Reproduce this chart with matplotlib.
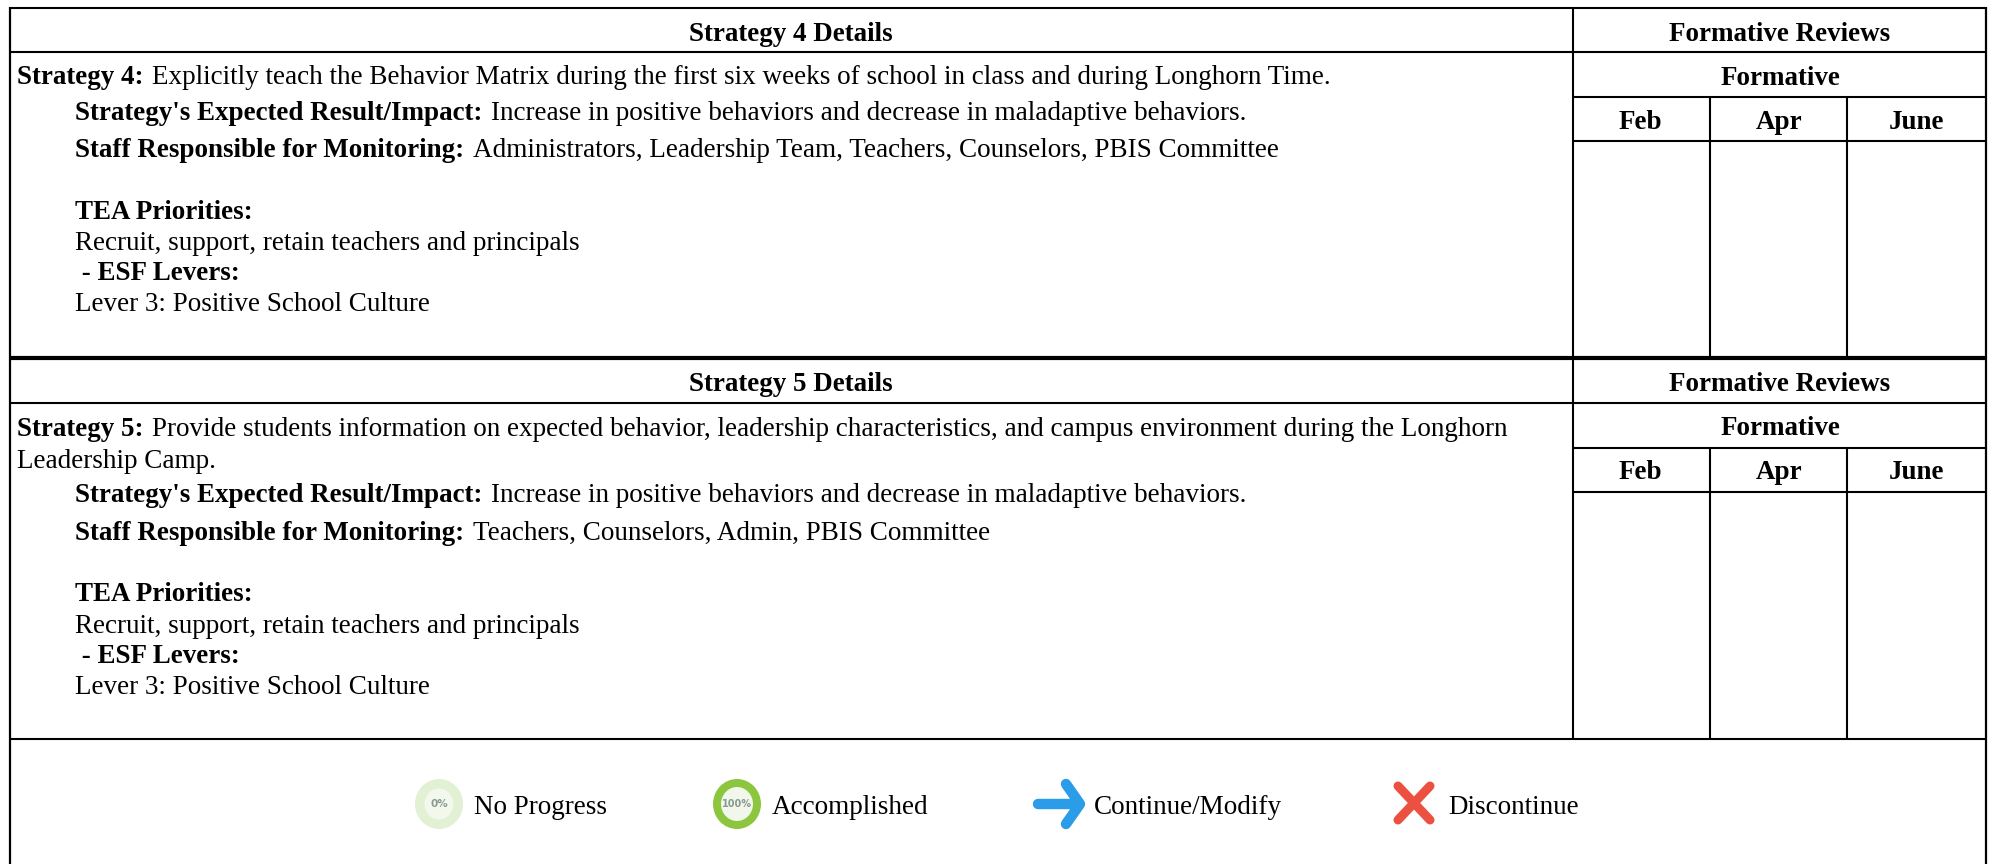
import matplotlib; matplotlib.use("Agg")
import matplotlib.pyplot as plt
from matplotlib.patches import Ellipse

W,H=1995,864
FS=19.5; FB=19.45
plt.rcParams['font.family']=['Liberation Serif','DejaVu Serif']

heads=["Strategy 4 Details","Strategy 5 Details"]
reviews="Formative Reviews"; formative="Formative"; months=["Feb","Apr","June"]
# (x, baseline, bold part, regular part)
body4=[(17,84.4,"Strategy 4:","Explicitly teach the Behavior Matrix during the first six weeks of school in class and during Longhorn Time."),
 (75,120.4,"Strategy's Expected Result/Impact:","Increase in positive behaviors and decrease in maladaptive behaviors."),
 (75,157.4,"Staff Responsible for Monitoring:","Administrators, Leadership Team, Teachers, Counselors, PBIS Committee"),
 (75,219.4,"TEA Priorities:",""),
 (75,250.4,"","Recruit, support, retain teachers and principals"),
 (75,280.4," - ESF Levers:",""),
 (75,311.4,"","Lever 3: Positive School Culture")]
body5=[(17,436.4,"Strategy 5:","Provide students information on expected behavior, leadership characteristics, and campus environment during the Longhorn"),
 (17,468.4,"","Leadership Camp."),
 (75,502.4,"Strategy's Expected Result/Impact:","Increase in positive behaviors and decrease in maladaptive behaviors."),
 (75,540.4,"Staff Responsible for Monitoring:","Teachers, Counselors, Admin, PBIS Committee"),
 (75,601.4,"TEA Priorities:",""),
 (75,633.4,"","Recruit, support, retain teachers and principals"),
 (75,663.4," - ESF Levers:",""),
 (75,694.4,"","Lever 3: Positive School Culture")]
legend_labels=["No Progress","Accomplished","Continue/Modify","Discontinue"]
legend_x=[474,772,1094,1448]

fig=plt.figure(figsize=(W/100,H/100),dpi=100)
ax=fig.add_axes([0,0,1,1]); ax.set_xlim(0,W); ax.set_ylim(H,0); ax.axis('off')
rend=fig.canvas.get_renderer()
L,R,SP=9.5,1986,1573; M1,M2=1710,1847
def hl(y,a=L,b=R,lw=1.5): ax.plot([a,b],[y,y],color='black',lw=lw,solid_capstyle='butt')
def vl(x,a,b,lw=1.5): ax.plot([x,x],[a,b],color='black',lw=lw,solid_capstyle='butt')

vl(L,7,H,lw=1.6); vl(R,7,H,lw=1.6); hl(7.5)
for top,y1,y2,y3,bot in [(7.5,52,96.5,141,358),(358,403,448,492,739)]:
    hl(y1); hl(y2,SP,R); hl(y3,SP,R); vl(SP,top,bot); vl(M1,y2,bot); vl(M2,y2,bot)
hl(358,lw=3); hl(739)

for h,b0 in zip(heads,[41,391]):
    ax.text(791,b0,h,ha='center',va='baseline',fontsize=FB,fontweight='bold')
    ax.text(1780,b0,reviews,ha='center',va='baseline',fontsize=FB,fontweight='bold')
    ax.text(1780,b0+44,formative,ha='center',va='baseline',fontsize=FB,fontweight='bold')
    for m,c in zip(months,[1640,1779,1916]):
        ax.text(c,b0+88,m,ha='center',va='baseline',fontsize=FB,fontweight='bold')

for x,y,b,t in body4+body5:
    if b:
        tb=ax.text(x,y,b,va='baseline',fontsize=FB,fontweight='bold')
        if t:
            x=ax.transData.inverted().transform(tb.get_window_extent(rend))[1,0]+9
    if t: ax.text(x,y,t,va='baseline',fontsize=FS)

for t,x in zip(legend_labels,legend_x):
    ax.text(x,814.5,t,va='baseline',fontsize=FS)

# icons
cy=804
ax.add_patch(Ellipse((439,cy),48,50,fc='#e2f0d3',ec='none'))
ax.add_patch(Ellipse((439,cy),29,31,fc='#f3f8ec',ec='none'))
ax.text(439,cy,"0%",ha='center',va='center',fontsize=7.5,fontweight='bold',color='#8a9a90',family='DejaVu Sans')
ax.add_patch(Ellipse((737,cy),48,50,fc='#8cc63f',ec='none'))
ax.add_patch(Ellipse((737,cy),32,34,fc='#f1f7ea',ec='none'))
ax.text(737,cy,"100%",ha='center',va='center',fontsize=7,fontweight='bold',color='#8a9a90',family='DejaVu Sans')
blue='#2b9de8'; red='#ec5040'
ax.plot([1038,1079],[cy,cy],color=blue,lw=7.5,solid_capstyle='round')
ax.plot([1066,1080,1066],[784,cy,824],color=blue,lw=7.5,solid_capstyle='round',solid_joinstyle='round')
ax.plot([1398,1430],[786,820],color=red,lw=6.5,solid_capstyle='round')
ax.plot([1398,1430],[820,786],color=red,lw=6.5,solid_capstyle='round')
plt.savefig("out.png",dpi=100)
